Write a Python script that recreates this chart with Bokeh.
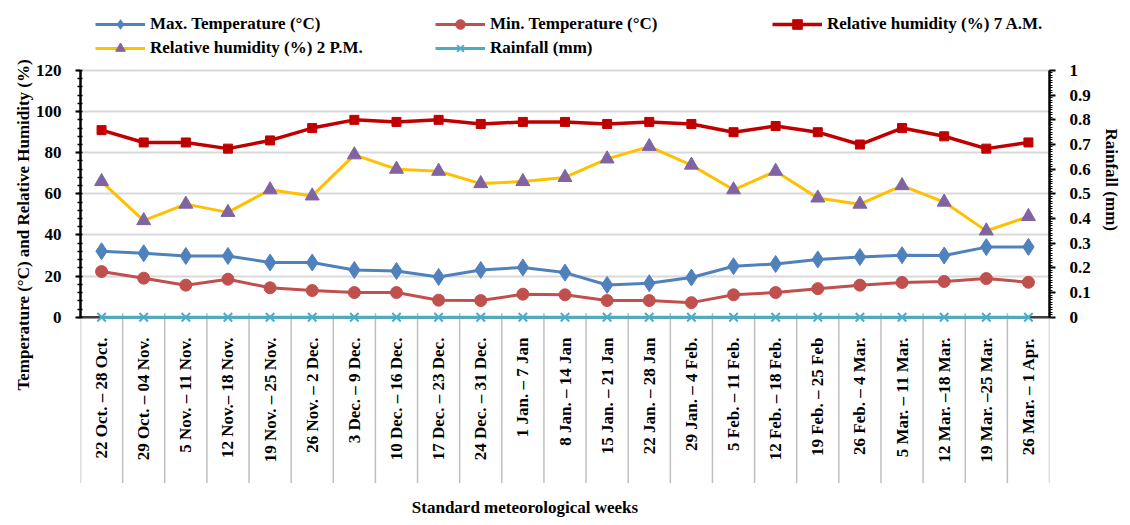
import math
from bokeh.plotting import figure
from bokeh.models import (Range1d, LinearAxis, FixedTicker, Legend, LegendItem,
                          ColumnDataSource, CustomJSTickFormatter, Span, Title)
from bokeh.embed import file_html
from bokeh.resources import INLINE
from bokeh.core.properties import value

# ---------------- data ----------------
weeks = [
    "22 Oct. \u2013 28 Oct.", "29 Oct. \u2013 04 Nov.", "5 Nov. \u2013 11 Nov.",
    "12 Nov.\u2013 18 Nov.", "19 Nov. \u2013 25 Nov.", "26 Nov. \u2013 2 Dec.",
    "3 Dec. \u2013 9 Dec.", "10 Dec. \u2013 16 Dec.", "17 Dec. \u2013 23 Dec.",
    "24 Dec. \u2013 31 Dec.", "1 Jan. \u2013 7 Jan", "8 Jan. \u2013 14 Jan",
    "15 Jan. \u2013 21 Jan", "22 Jan. \u2013 28 Jan", "29 Jan. \u2013 4 Feb.",
    "5 Feb. \u2013 11 Feb.", "12 Feb. \u2013 18 Feb.", "19 Feb. \u2013 25 Feb",
    "26 Feb. \u2013 4 Mar.", "5 Mar. \u2013 11 Mar.", "12 Mar. \u201318 Mar.",
    "19 Mar. \u201325 Mar.", "26 Mar. \u2013 1 Apr.",
]
max_temp = [32.1, 31.1, 29.8, 29.8, 26.6, 26.6, 23.0, 22.5, 19.6, 23.0, 24.2, 21.7,
            15.7, 16.5, 19.3, 24.8, 25.9, 28.1, 29.3, 30.2, 30.0, 34.1, 34.2]
min_temp = [22.2, 19.0, 15.6, 18.5, 14.3, 13.0, 12.0, 12.0, 8.3, 8.1, 11.2, 10.9,
            8.1, 8.1, 7.1, 10.9, 12.0, 13.9, 15.6, 16.9, 17.4, 18.8, 17.0]
rh_7am = [91, 85, 85, 82, 86, 92, 96, 95, 96, 94, 95, 95,
          94, 95, 94, 90, 93, 90, 84, 92, 88, 82, 85]
rh_2pm = [66, 47, 55, 51, 62, 59, 79, 72, 71, 65, 66, 68,
          77, 83, 74, 62, 71, 58, 55, 64, 56, 42, 49]
rainfall = [0.0, 0.0, 0.0, 0.0, 0.0, 0.0, 0.0, 0.0, 0.0, 0.0, 0.0, 0.0,
            0.0, 0.0, 0.0, 0.0, 0.0, 0.0, 0.0, 0.0, 0.0, 0.0, 0.0]
left_ticks = [0, 20, 40, 60, 80, 100, 120]
right_ticks = [0.0, 0.1, 0.2, 0.3, 0.4, 0.5, 0.6, 0.7, 0.8, 0.9, 1.0]
x_title = "Standard meteorological weeks"

# ---------------- layout / styling ----------------
FONT = "Liberation Serif"
Y_LO, Y_HI = -101.3, 150.16   # room below 0 for week labels, above 120 for legend
SEP_BOTTOM = -80.89           # end of the week separators
LABEL_Y = -9.9                # top of the rotated week labels
XTITLE_Y = -92.6
XTITLE_X = 10.05
N = len(weeks)
idx = list(range(N))
src = ColumnDataSource(dict(x=idx, week=weeks, tmax=max_temp, tmin=min_temp,
                            rh7=rh_7am, rh2=rh_2pm, rain=rainfall))

p = figure(width=1130, height=525, output_backend="svg", toolbar_location=None,
           x_range=Range1d(-0.5, N - 0.5), y_range=Range1d(Y_LO, Y_HI),
           x_axis_location=None,
           min_border_left=80, min_border_right=80, min_border_top=8,
           min_border_bottom=0)
p.outline_line_color = None
p.background_fill_color = "white"
p.border_fill_color = "white"
p.styles = {"outline": "2px solid #d9d9d9", "outline-offset": "-6px"}

# grid
p.xgrid.visible = False
p.ygrid.ticker = FixedTicker(ticks=left_ticks)
p.ygrid.grid_line_color = "#d9d9d9"
p.ygrid.grid_line_width = 2

# left axis
ya = p.yaxis[0]
ya.ticker = FixedTicker(ticks=left_ticks, minor_ticks=list(range(0, 121, 4)))
ya.bounds = (0, 120)
ya.major_label_text_font = FONT
ya.major_label_text_font_style = "bold"
ya.major_label_text_font_size = "17px"
ya.major_label_text_color = "black"
ya.major_label_standoff = 14
ya.axis_line_color = "black"
ya.axis_line_width = 2.5
ya.major_tick_line_color = "black"
ya.major_tick_line_width = 2
ya.major_tick_out = 5
ya.major_tick_in = 0
ya.minor_tick_line_color = "black"
ya.minor_tick_line_width = 1.5
ya.minor_tick_out = 3
ya.minor_tick_in = 2

# right axis
p.extra_y_ranges = {"rain": Range1d(Y_LO / 120, Y_HI / 120)}
ra = LinearAxis(y_range_name="rain", bounds=(0, 1),
                ticker=FixedTicker(ticks=right_ticks,
                                   minor_ticks=[i / 100 for i in range(101)]),
                formatter=CustomJSTickFormatter(code="return String(+tick.toFixed(1));"))
ra.major_label_text_font = FONT
ra.major_label_text_font_style = "bold"
ra.major_label_text_font_size = "17px"
ra.major_label_text_color = "black"
ra.major_label_standoff = 14
ra.axis_line_color = "black"
ra.axis_line_width = 2.5
ra.major_tick_line_color = "black"
ra.major_tick_line_width = 2
ra.major_tick_out = 6
ra.major_tick_in = 0
ra.minor_tick_line_color = "black"
ra.minor_tick_line_width = 1
ra.minor_tick_out = 3
ra.minor_tick_in = 0
p.add_layout(ra, "right")

# axis titles placed along the 0..120 part of the side axes
left_title = Title(text="Temperature (\u00b0C) and Relative Humidity (%)", align="left",
                   offset=135, standoff=0, text_font=FONT, text_font_style="bold",
                   text_font_size="17px", text_color="black")
p.add_layout(left_title, "left")
right_title = Title(text="Rainfall (mm)", align="left", offset=120, standoff=16,
                    text_font=FONT, text_font_style="bold", text_font_size="17px",
                    text_color="black")
p.add_layout(right_title, "right")

# category separators below the axis and the category axis line
sep_x = [i - 0.5 for i in range(N + 1)]
p.segment(x0=sep_x, y0=[1.8] * len(sep_x), x1=sep_x, y1=[SEP_BOTTOM] * len(sep_x),
          line_color="#7f7f7f", line_width=1.5, line_dash="1 1")
p.add_layout(Span(location=0, dimension="width", line_color="#404040",
                  line_width=2.5, level="underlay"))

# week labels (category tick labels) and the category-axis title
p.text(x="x", y=LABEL_Y, text="week", source=src, angle=math.pi / 2,
       text_align="right", text_baseline="middle", text_font=value(FONT),
       text_font_style="bold", text_font_size="17px", text_color="black")
p.text(x=[XTITLE_X], y=[XTITLE_Y], text=[x_title], text_align="center",
       text_baseline="middle", text_font=value(FONT), text_font_style="bold",
       text_font_size="17px", text_color="black")

# series
LW = 3
r_rain_l = p.line("x", "rain", source=src, y_range_name="rain", line_color="#4bacc6", line_width=LW)
r_rain_m = p.scatter("x", "rain", source=src, y_range_name="rain", marker="x", size=12,
                     line_color="#4bacc6", line_width=2)
r_max_l = p.line("x", "tmax", source=src, line_color="#4f81bd", line_width=LW)
r_max_m = p.scatter("x", "tmax", source=src, marker="diamond", size=17,
                    fill_color="#4f81bd", line_color="#4f81bd")
r_min_l = p.line("x", "tmin", source=src, line_color="#c0504d", line_width=LW)
r_min_m = p.scatter("x", "tmin", source=src, marker="circle", size=12,
                    fill_color="#c0504d", line_color="#c0504d")
r_rh2_l = p.line("x", "rh2", source=src, line_color="#ffc000", line_width=LW)
r_rh2_m = p.scatter("x", "rh2", source=src, marker="triangle", size=14,
                    fill_color="#8064a2", line_color="#8064a2")
r_rh7_l = p.line("x", "rh7", source=src, line_color="#c00000", line_width=3.5)
r_rh7_m = p.scatter("x", "rh7", source=src, marker="square", size=9,
                    fill_color="#c00000", line_color="#c00000")


def make_legend(items, loc):
    lg = Legend(items=items, orientation="vertical", location=loc)
    lg.border_line_color = None
    lg.background_fill_alpha = 0
    lg.label_text_font = FONT
    lg.label_text_font_style = "bold"
    lg.label_text_font_size = "17px"
    lg.label_text_color = "black"
    lg.glyph_width = 50
    lg.glyph_height = 24
    lg.label_height = 24
    lg.label_standoff = 5
    lg.padding = 5
    lg.margin = 0
    lg.spacing = 0
    return lg


p.add_layout(make_legend([
    LegendItem(label="Max. Temperature (\u00b0C)", renderers=[r_max_l, r_max_m]),
    LegendItem(label="Relative humidity (%) 2 P.M.", renderers=[r_rh2_l, r_rh2_m]),
], (15, 465)))
p.add_layout(make_legend([
    LegendItem(label="Min. Temperature (\u00b0C)", renderers=[r_min_l, r_min_m]),
    LegendItem(label="Rainfall (mm)", renderers=[r_rain_l, r_rain_m]),
], (355, 465)))
p.add_layout(make_legend([
    LegendItem(label="Relative humidity (%) 7 A.M.", renderers=[r_rh7_l, r_rh7_m]),
], (692, 489)))

open("out.html", "w").write(file_html(p, INLINE))
